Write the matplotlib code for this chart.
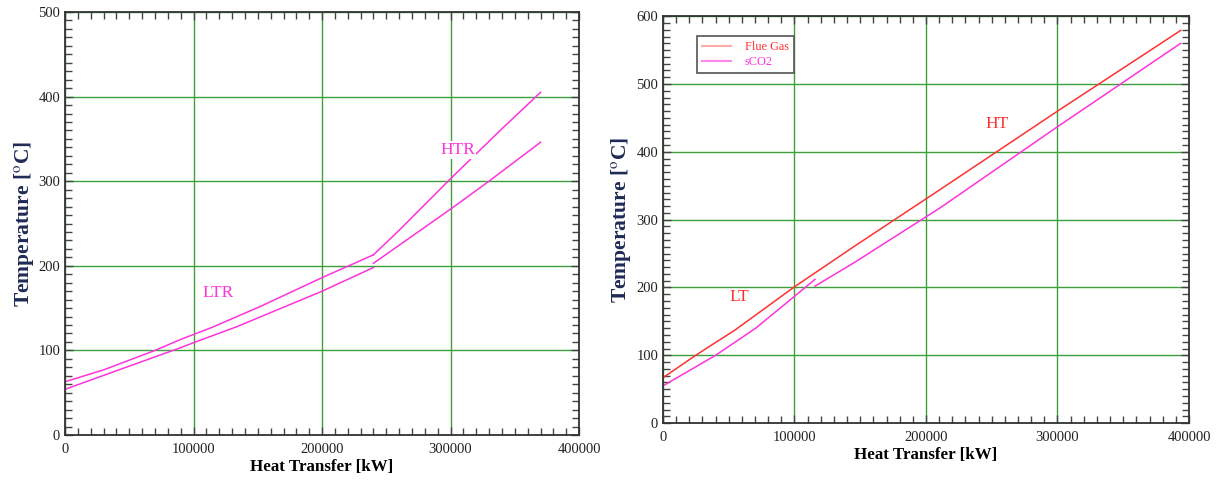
import matplotlib
matplotlib.use("Agg")
import matplotlib.pyplot as plt
from matplotlib.ticker import MultipleLocator

plt.rcParams['font.family'] = ['Liberation Serif', 'DejaVu Serif']
plt.rcParams['mathtext.fontset'] = 'stix'

#=========================== recuperators (left) ===========================
ltr_hot_q = [0, 30000, 70000, 90000, 114000, 152000, 200000, 240000]
ltr_hot_t = [63, 77, 100, 113, 127, 152, 186, 213]
htr_hot_q = [240000, 260000, 300000, 340000, 370000]
htr_hot_t = [213, 242, 303, 362, 405]
ltr_cold_q = [0, 40000, 89500, 105000, 133600, 200000, 240000]
ltr_cold_t = [54, 76, 103, 112, 128, 170, 198]
htr_cold_q = [240000, 270000, 300000, 329000, 370000]
htr_cold_t = [203, 235, 267, 299, 346]

#=========================== heater (right) ================================
flue_q = [0, 24870, 55300, 100000, 146500, 211200, 300000, 393700]
flue_t = [67, 100, 138, 201, 262, 345, 460, 579]
sco2_lt_q = [0, 40000, 70500, 100000, 115600]
sco2_lt_t = [55, 100, 140, 187, 212]
sco2_ht_q = [115600, 146500, 211200, 300000, 393700]
sco2_ht_t = [202, 238, 318, 437, 560]

labels_left = ["LTR", "HTR"]
labels_right = ["LT", "HT"]

magenta = '#ff33dd'
red = '#ff3030'
grid_green = '#3c9f3c'
navy = '#1f2b55'

fig = plt.figure(figsize=(12.16, 4.84), dpi=100)
ax1 = fig.add_axes([0.0535, 0.1012, 0.4227, 0.874])
ax2 = fig.add_axes([0.5452, 0.1257, 0.4326, 0.8409])


def style_axes(ax, ymax):
    ax.set_xlim(0, 400000)
    ax.set_ylim(0, ymax)
    ax.xaxis.set_major_locator(MultipleLocator(100000))
    ax.xaxis.set_minor_locator(MultipleLocator(10000))
    ax.yaxis.set_major_locator(MultipleLocator(100))
    ax.yaxis.set_minor_locator(MultipleLocator(10))
    ax.tick_params(which='both', direction='in', top=True, right=True,
                   color='#444444', labelsize=10.5, labelcolor='#222222')
    ax.tick_params(which='major', length=6, width=1)
    ax.tick_params(which='minor', length=5, width=1)
    ax.tick_params(axis='x', pad=6)
    ax.grid(True, which='major', color=grid_green, linewidth=1)
    ax.set_axisbelow(True)
    for s in ax.spines.values():
        s.set_color('#333333')
        s.set_linewidth(1.3)
    ax.set_xlabel("Heat Transfer [kW]", fontsize=12.2, fontweight='bold', labelpad=2)
    ax.set_ylabel(r"Temperature [$^{\mathrm{o}}$C]", fontsize=15.5, fontweight='bold',
                  color=navy, labelpad=2)


style_axes(ax1, 500)
ax1.plot(ltr_hot_q, ltr_hot_t, color=magenta, lw=1.1)
ax1.plot(htr_hot_q, htr_hot_t, color=magenta, lw=1.1)
ax1.plot(ltr_cold_q, ltr_cold_t, color=magenta, lw=1.1)
ax1.plot(htr_cold_q, htr_cold_t, color=magenta, lw=1.1)
ax1.text(119000, 168, labels_left[0], color=magenta, fontsize=12.5, ha='center', va='center')
ax1.text(306000, 337, labels_left[1], color=magenta, fontsize=12.5, ha='center', va='center',
         bbox=dict(facecolor='white', edgecolor='none', pad=0.5))

style_axes(ax2, 600)
ax2.plot(flue_q, flue_t, color=red, lw=1.1)
ax2.plot(sco2_lt_q, sco2_lt_t, color=magenta, lw=1.1)
ax2.plot(sco2_ht_q, sco2_ht_t, color=magenta, lw=1.1)
ax2.text(58000, 186, labels_right[0], color=red, fontsize=12.5, ha='center', va='center')
ax2.text(254000, 441, labels_right[1], color=red, fontsize=12.5, ha='center', va='center')

# legend with pale sample lines and coloured text
h1, = ax2.plot([], [], color='#ffaaaa', lw=1.5, label="Flue Gas")
h2, = ax2.plot([], [], color='#ff88ee', lw=1.5, label="sCO2")
leg = ax2.legend(handles=[h1, h2], loc='upper left', bbox_to_anchor=(0.065, 0.951),
                 borderaxespad=0, fontsize=8.8, fancybox=False, framealpha=1,
                 edgecolor='#555555', handlelength=2.4, handletextpad=1.1,
                 borderpad=0.4, labelspacing=0.25)
leg.get_frame().set_linewidth(1.2)
leg.get_texts()[0].set_color(red)
leg.get_texts()[1].set_color(magenta)

plt.savefig("out.png", dpi=100)
